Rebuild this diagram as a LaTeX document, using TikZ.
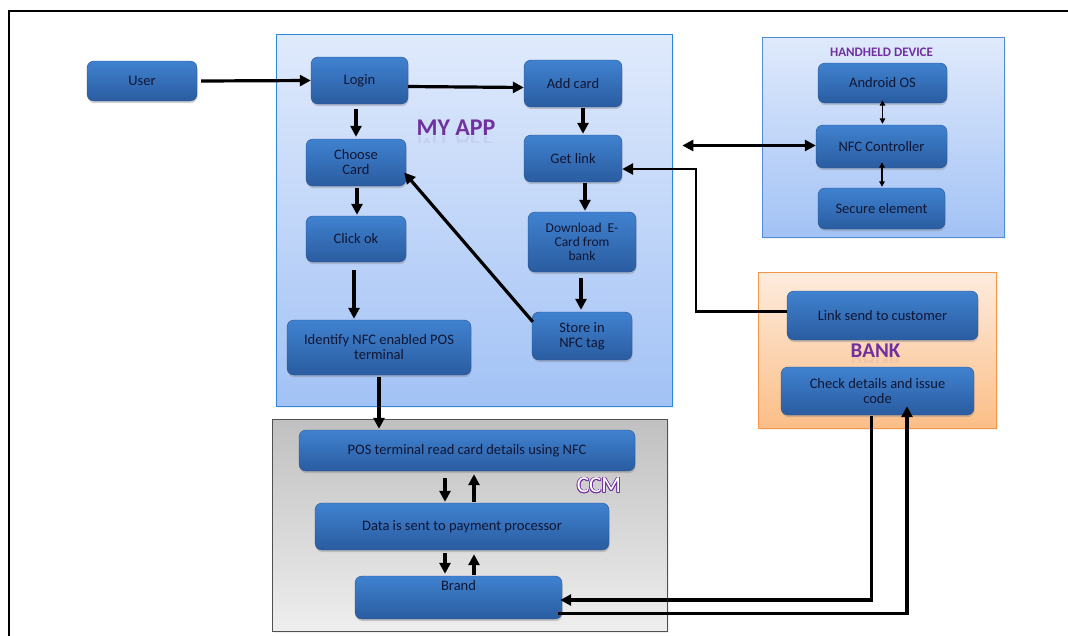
\documentclass[tikz,border=0pt]{standalone}
\usepackage{fontspec}
\setmainfont{Carlito}
\usetikzlibrary{arrows.meta,shadows,calc}

\definecolor{boxtop}{RGB}{64,130,208}
\definecolor{boxbot}{RGB}{42,92,160}
\definecolor{boxedge}{RGB}{40,82,145}
\definecolor{boxtext}{RGB}{16,22,52}
\definecolor{apptop}{RGB}{224,234,252}
\definecolor{appbot}{RGB}{162,194,245}
\definecolor{appedge}{RGB}{45,135,218}
\definecolor{handedge}{RGB}{85,140,215}
\definecolor{banktop}{RGB}{253,236,222}
\definecolor{bankbot}{RGB}{251,190,135}
\definecolor{bankedge}{RGB}{247,150,70}
\definecolor{ccmtop}{RGB}{192,192,192}
\definecolor{ccmbot}{RGB}{238,238,238}
\definecolor{ccmedge}{RGB}{80,80,80}
\definecolor{titlepurple}{RGB}{112,48,160}

\tikzset{
  stepbox/.style={rounded corners=7pt, draw=boxedge, line width=0.4pt,
    top color=boxtop, bottom color=boxbot, text=boxtext, align=center,
    font=\fontsize{14.5}{15}\selectfont, inner sep=1pt,
    drop shadow={shadow xshift=0.6pt, shadow yshift=-2.2pt, opacity=0.35}},
  group/.style={line width=0.7pt, inner sep=0pt,
    drop shadow={shadow xshift=1.5pt, shadow yshift=-1.5pt, opacity=0.12}},
  grouptitle/.style={text=titlepurple, font=\bfseries\fontsize{#1}{#1}\selectfont, inner sep=0pt},
  flow/.style={line width=3.2pt, -{Triangle[length=11pt,width=11pt]}},
  flowboth/.style={line width=3.2pt, {Triangle[length=11pt,width=11pt]}-{Triangle[length=11pt,width=11pt]}},
  thinboth/.style={line width=1.2pt, {Triangle[length=5.5pt,width=5.5pt]}-{Triangle[length=5.5pt,width=5.5pt]}},
}

\begin{document}
\begin{tikzpicture}[x=1pt,y=-1pt]
\useasboundingbox (0,0) rectangle (1068,635);
\clip (0,0) rectangle (1068,635);

% outer frame (runs off the page on the right and at the bottom)
\draw[line width=2.7pt] (9,660) -- (9,11) -- (1100,11);

% ---------- groups ----------
\node[group, draw=appedge, top color=apptop, bottom color=appbot,
      minimum width=396pt, minimum height=372pt] (app) at (474,220) {};
\node[group, draw=handedge, top color=apptop, bottom color=appbot,
      minimum width=242pt, minimum height=200pt] (hand) at (883,137) {};
\node[group, draw=bankedge, top color=banktop, bottom color=bankbot,
      minimum width=238pt, minimum height=156pt] (bank) at (877,350) {};
\node[group, draw=ccmedge, top color=ccmtop, bottom color=ccmbot,
      minimum width=395pt, minimum height=212pt] (ccm) at (469.5,525) {};

% group titles, with a faint mirror image under the large ones
\node[grouptitle=24] (appname) at (456,127.5) {MY APP};
\begin{scope}
  \clip (400,136.5) rectangle (520,142.5);
  \begin{scope}[shift={(456,136.5)}, yscale=-1]
    \node[grouptitle=24, opacity=0.08, anchor=south, transform shape] (appmirror) at (0,0) {MY APP};
  \end{scope}
\end{scope}
\node[grouptitle=13] (handname) at (881.5,52) {HANDHELD DEVICE};
\node[grouptitle=21] (bankname) at (875.5,350.5) {BANK};
\begin{scope}
  \clip (840,357.5) rectangle (910,362.5);
  \begin{scope}[shift={(875.5,357.5)}, yscale=-1]
    \node[grouptitle=21, opacity=0.08, anchor=south, transform shape] (bankmirror) at (0,0) {BANK};
  \end{scope}
\end{scope}
\foreach \a in {0,30,...,330}
  \node[text=titlepurple, font=\fontsize{23}{23}\selectfont, inner sep=0pt]
       (ccmo\a) at ($(599,485.5)+(\a:0.8pt)$) {CCM};
\node[text=white, font=\fontsize{23}{23}\selectfont, inner sep=0pt] (ccmname) at (599,485.5) {CCM};

% ---------- steps ----------
\node[stepbox, minimum width=110pt, minimum height=40pt] (user) at (142,81) {User};
\node[stepbox, minimum width=97pt,  minimum height=47pt] (login) at (359.5,80.5) {Login};
\node[stepbox, minimum width=98pt,  minimum height=47pt] (addcard) at (573,83.5) {Add card};
\node[stepbox, minimum width=100pt, minimum height=47pt] (choose) at (356,162.5) {Choose\\Card};
\node[stepbox, minimum width=98pt,  minimum height=47pt] (getlink) at (573,158.5) {Get link};
\node[stepbox, minimum width=100pt, minimum height=46pt] (clickok) at (356,239) {Click ok};
\node[stepbox, minimum width=108pt, minimum height=60pt,
      font=\fontsize{13.5}{14}\selectfont] (download) at (582,242) {Download\ \ E-\\Card from\\bank};
\node[stepbox, minimum width=184pt, minimum height=55pt] (identify) at (379,347.5) {Identify NFC enabled POS\\terminal};
\node[stepbox, minimum width=100pt, minimum height=48pt] (store) at (582,336) {Store in\\NFC tag};

\node[stepbox, minimum width=129pt, minimum height=40pt] (android) at (882.5,83) {Android OS};
\node[stepbox, minimum width=131pt, minimum height=43pt] (nfc) at (881.5,146.5) {NFC Controller};
\node[stepbox, minimum width=127pt, minimum height=41pt] (secure) at (881.5,208.5) {Secure element};

\node[stepbox, minimum width=191pt, minimum height=49pt] (linksend) at (882.5,315.5) {Link send to customer};
\node[stepbox, minimum width=193pt, minimum height=48pt] (check) at (877.5,391) {Check details and issue\\code};

\node[stepbox, minimum width=336pt, minimum height=41pt] (pos) at (467,450.5) {POS terminal read card details using NFC};
\node[stepbox, minimum width=294pt, minimum height=47pt] (data) at (462,526.5) {Data is sent to payment processor};
\node[stepbox, minimum width=207pt, minimum height=43pt,
      text height=10pt, text depth=25pt] (brand) at (458.5,597.5) {Brand};

% ---------- connectors ----------
\draw[flow] ($(user.east)+(4,0)$) -- (login.west);
\draw[flow] ($(login.east)+(0,6)$) -- ($(addcard.west)+(0,4)$);
\draw[flow] ($(choose.north |- login.south)+(0,5)$) -- ($(choose.north)+(0,-2)$);
\draw[flow] ($(addcard.south)+(10,1)$) -- ($(getlink.north)+(10,-1)$);
\draw[flow] ($(choose.south)+(1,2)$) -- ($(clickok.north)+(1,-1)$);
\draw[flow] ($(getlink.south)+(12,1)$) -- ($(download.north)+(3,-1)$);
\draw[flow] ($(clickok.south)+(-2,8)$) -- ($(identify.north)+(-25,-1)$);
\draw[flow] ($(download.south)+(-1,6)$) -- ($(store.north)+(-1,-2)$);
\draw[flow] ($(store.north west)+(1,10)$) -- ($(choose.east)+(-2,10)$);

% bank link back to the app
\coordinate (ls) at ($(linksend.west)+(0,-4)$);
\coordinate (gl) at ($(getlink.east)+(0,10.5)$);
\coordinate (bend) at (696,240);
\draw[flow, line width=2.8pt] (ls) -- (ls -| bend) |- (gl);

% app <-> handheld device
\coordinate (hl) at (app.east |- nfc.west);
\draw[flowboth] ($(hl)+(10,-1)$) -- ($(nfc.west)+(0,-1)$);
\draw[thinboth] ($(android.south)+(0,-3)$) -- ($(android.south |- nfc.north)+(0,-1)$);
\draw[thinboth] ($(nfc.south)+(0.5,-6)$) -- ($(secure.north)+(0.5,-1)$);

% app -> CCM
\draw[flow] ($(identify.south)+(0,2)$) -- ($(identify.south |- pos.north)+(0,-1)$);
\draw[flow] ($(pos.south)+(-22,7)$) -- ($(data.north)+(-17,-1)$);
\draw[flow] ($(data.north)+(12,-1)$) -- ($(pos.south)+(7,3)$);
\draw[flow] ($(data.south)+(-17,3)$) -- ($(brand.north)+(-13.5,-2)$);
\draw[flow] ($(brand.north)+(15.5,-1)$) -- ($(data.south)+(12,4)$);

% CCM <-> bank
\coordinate (c1) at ($(check.south)+(-6,1)$);
\coordinate (b1) at ($(brand.east)+(-2,2.5)$);
\draw[flow] (c1) |- (b1);
\coordinate (b2) at ($(brand.east)+(-4,16)$);
\coordinate (c2) at ($(check.south)+(29.5,-9)$);
\draw[flow] (b2) -| (c2);
\end{tikzpicture}
\end{document}
